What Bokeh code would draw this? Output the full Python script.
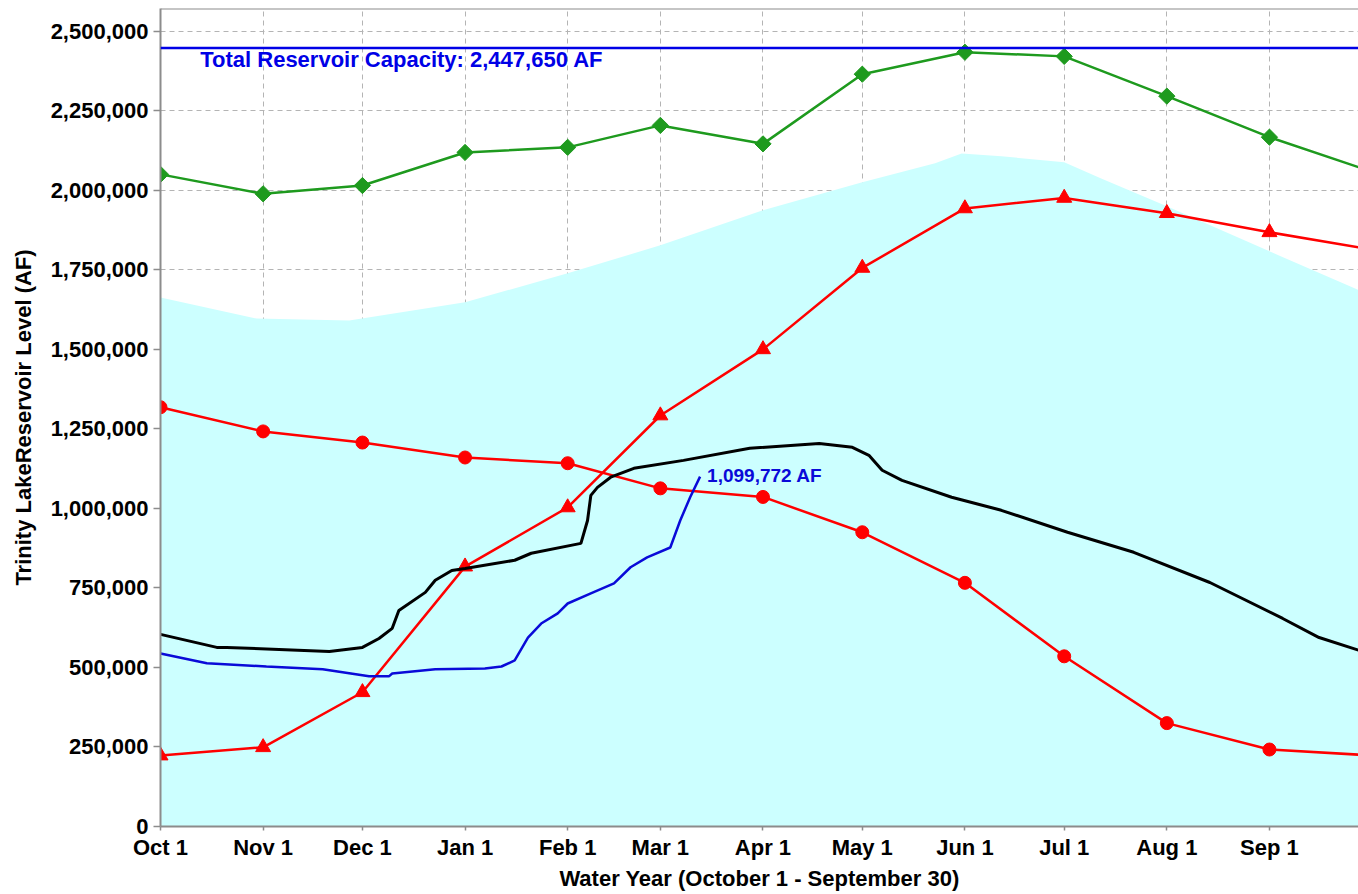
import math
from bokeh.plotting import figure
from bokeh.models import FixedTicker, NumeralTickFormatter, Range1d, Span
from bokeh.embed import file_html
from bokeh.resources import INLINE
from bokeh.core.properties import value

# ---------------- data ----------------
MONTH_LABELS = ["Oct 1", "Nov 1", "Dec 1", "Jan 1", "Feb 1", "Mar 1",
                "Apr 1", "May 1", "Jun 1", "Jul 1", "Aug 1", "Sep 1"]
MONTH_DAYS = [0, 31, 61, 92, 123, 151, 182, 212, 243, 273, 304, 335]
SERIES_DAYS = MONTH_DAYS + [365]

GREEN_AF = [2050000, 1989000, 2015000, 2119000, 2135000, 2204000, 2146000,
            2365000, 2434000, 2421000, 2296000, 2167000, 2062000]
TRIANGLE_AF = [223000, 249000, 422000, 817000, 1003000, 1292000, 1500000,
               1756000, 1943000, 1976000, 1928000, 1868000, 1815000]
CIRCLE_AF = [1318000, 1242000, 1207000, 1160000, 1142000, 1063000, 1036000,
             925000, 766000, 535000, 325000, 242000, 224000]

CYAN_DAY = [0, 29, 57, 92, 123, 151, 182, 212, 234, 242, 254, 273, 284, 304, 335, 362, 365]
CYAN_AF = [1663000, 1597000, 1591000, 1648000, 1739000, 1827000, 1937000, 2025000,
           2085000, 2116000, 2107000, 2088000, 2038000, 1950000, 1808000, 1686000, 1672000]

BLACK_DAY = [0, 17, 20, 51, 61, 66, 70, 72, 80, 83, 88, 92, 107, 112, 127, 129, 130,
             132, 136, 143, 158, 178, 199, 209, 214, 218, 224, 239, 254, 274, 294,
             317, 339, 350, 362, 365]
BLACK_AF = [604000, 563000, 563000, 550000, 563000, 591000, 623000, 679000, 736000,
            774000, 805000, 811000, 837000, 859000, 890000, 962000, 1041000, 1066000,
            1098000, 1126000, 1151000, 1189000, 1204000, 1192000, 1167000, 1120000,
            1088000, 1035000, 994000, 925000, 862000, 767000, 654000, 594000, 554000,
            543000]

BLUE_DAY = [0, 14, 32, 49, 63, 69, 70, 83, 98, 103, 107, 111, 115, 120, 123, 130,
            137, 142, 147, 154, 157, 160, 163]
BLUE_AF = [544000, 513000, 503000, 494000, 472000, 472000, 481000, 494000, 497000,
           503000, 522000, 594000, 638000, 670000, 701000, 733000, 764000, 815000,
           846000, 877000, 962000, 1035000, 1099772]

CAPACITY = 2447650
CAPACITY_LABEL = "Total Reservoir Capacity: 2,447,650 AF"
CURRENT_LABEL = "1,099,772 AF"
Y_TICKS = [0, 250000, 500000, 750000, 1000000, 1250000, 1500000,
           1750000, 2000000, 2250000, 2500000]

# ---------------- layout ----------------
FRAME_W, FRAME_H = 1198, 818
X_END = 361.9
Y_END = 2571500
PX_X = X_END / FRAME_W
PX_Y = Y_END / FRAME_H

FONT = "Liberation Sans"
GRID = "#b4b4b4"
AXIS = "#8c8c8c"

p = figure(frame_width=FRAME_W, frame_height=FRAME_H,
           x_range=Range1d(0, X_END), y_range=Range1d(0, Y_END),
           output_backend="svg", toolbar_location=None,
           min_border_left=160, min_border_right=0, min_border_top=8,
           min_border_bottom=60, background_fill_color="white",
           border_fill_color="white")
p.outline_line_color = None

# cyan band
p.varea(x=CYAN_DAY, y1=[0] * len(CYAN_DAY), y2=CYAN_AF, fill_color="#ccffff")

# capacity and top frame edge
p.add_layout(Span(location=CAPACITY, dimension="width", line_color="#0000e6", line_width=2.5))
p.add_layout(Span(location=Y_END, dimension="width", line_color=AXIS, line_width=2))

# green diamonds
p.line(SERIES_DAYS, GREEN_AF, line_color="#1e9a1e", line_width=2.5)
p.scatter(SERIES_DAYS, GREEN_AF, marker="square", size=11.5, angle=math.pi / 4,
          fill_color="#1e9a1e", line_color="#1e9a1e")

# red circles
p.line(SERIES_DAYS, CIRCLE_AF, line_color="#ff0000", line_width=2.5)
p.scatter(SERIES_DAYS, CIRCLE_AF, marker="circle", size=13, fill_color="#ff0000",
          line_color="#ff0000")

# red triangles
p.line(SERIES_DAYS, TRIANGLE_AF, line_color="#ff0000", line_width=2.5)
p.scatter(SERIES_DAYS, TRIANGLE_AF, marker="triangle", size=15, fill_color="#ff0000",
          line_color="#ff0000")

# black trace
p.line(BLACK_DAY, BLACK_AF, line_color="#000000", line_width=3)

# current year blue trace
p.line(BLUE_DAY, BLUE_AF, line_color="#0a0ad8", line_width=2.5)

# labels
p.text(x=[12], y=[CAPACITY - 12 * PX_Y], text=[CAPACITY_LABEL],
       text_font=value(FONT), text_font_style="bold", text_font_size="22px",
       text_color="#0000e6", text_baseline="alphabetic", text_align="left")
p.text(x=[BLUE_DAY[-1] + 7 * PX_X], y=[BLUE_AF[-1] + 1 * PX_Y], text=[CURRENT_LABEL],
       text_font=value(FONT), text_font_style="bold", text_font_size="19px",
       text_color="#0a0ad8", text_baseline="alphabetic", text_align="left")

# axes
xa = p.xaxis[0]
xa.ticker = FixedTicker(ticks=MONTH_DAYS)
xa.major_label_overrides = {d: l for d, l in zip(MONTH_DAYS, MONTH_LABELS)}
xa.axis_label = "Water Year (October 1 - September 30)"
xa.major_tick_out = 4
xa.major_tick_in = 0
xa.major_label_standoff = 4
xa.axis_label_standoff = 3

ya = p.yaxis[0]
ya.ticker = FixedTicker(ticks=Y_TICKS)
ya.formatter = NumeralTickFormatter(format="0,0")
ya.axis_label = "Trinity LakeReservoir Level (AF)"
ya.major_tick_out = 7
ya.major_tick_in = 0
ya.major_label_standoff = 5
ya.axis_label_standoff = 12

for ax in (xa, ya):
    ax.minor_tick_line_color = None
    ax.axis_line_color = AXIS
    ax.axis_line_width = 2
    ax.major_tick_line_color = AXIS
    ax.major_tick_line_width = 1.5
    ax.major_label_text_font = FONT
    ax.major_label_text_font_style = "bold"
    ax.major_label_text_font_size = "22px"
    ax.major_label_text_color = "#000000"
    ax.axis_label_text_font = FONT
    ax.axis_label_text_font_style = "bold"
    ax.axis_label_text_font_size = "22px"
    ax.axis_label_text_color = "#000000"

for g in (p.xgrid[0], p.ygrid[0]):
    g.grid_line_color = GRID
    g.grid_line_dash = "5 4"
    g.grid_line_width = 1
p.xgrid[0].ticker = FixedTicker(ticks=MONTH_DAYS)
p.ygrid[0].ticker = FixedTicker(ticks=Y_TICKS)

open("out.html", "w").write(file_html(p, INLINE))
